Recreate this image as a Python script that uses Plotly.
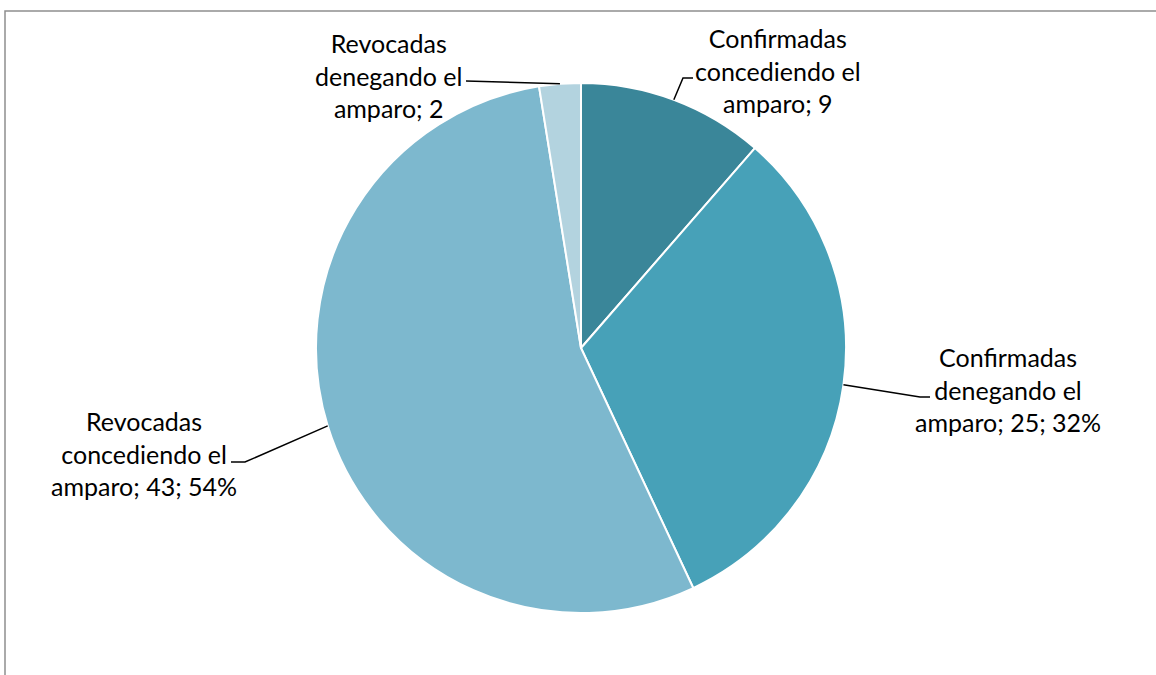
import math
import plotly.graph_objects as go

# Data
categories = [
    "Confirmadas concediendo el amparo",
    "Confirmadas denegando el amparo",
    "Revocadas concediendo el amparo",
    "Revocadas denegando el amparo",
]
values = [9, 25, 43, 2]
show_percent = [False, True, True, False]
colors = ["#3A8699", "#47A1B8", "#7DB8CE", "#B3D3DF"]

# Canvas and pie geometry (pixels)
W, H = 1156, 675
CX, CY, R = 581, 348, 265

# Label block centres and leader elbows (pixels)
label_pos = [(778, 71), (1008, 389), (144, 453), (388, 75)]
elbows = [[(683, 78), (693, 78)], [(920, 397), (930, 397)],
          [(245, 462), (231, 462)], [(466, 81)]]


def px(x, y):
    return x / W, 1 - y / H


def wrap(name):
    words = name.split(" ")
    # "Confirmadas" / "concediendo el" / "amparo"
    return [words[0], " ".join(words[1:3]), " ".join(words[3:])]


total = sum(values)

fig = go.Figure(go.Pie(
    labels=categories,
    values=values,
    sort=False,
    direction="clockwise",
    rotation=0,
    marker=dict(colors=colors, line=dict(color="white", width=2)),
    textinfo="none",
    hoverinfo="label+value+percent",
    showlegend=False,
    domain=dict(x=[(CX - R) / W, (CX + R) / W],
                y=[(H - CY - R) / H, (H - CY + R) / H]),
))

shapes = [dict(type="rect", xref="paper", yref="paper",
               x0=5 / W, y0=1 - 11 / H, x1=1.01, y1=-0.01,
               line=dict(color="#8E8E8E", width=1.5), layer="below")]
annotations = []

cum = 0
for i, v in enumerate(values):
    mid = (cum + v / 2) / total * 2 * math.pi
    cum += v
    ex, ey = CX + R * math.sin(mid), CY - R * math.cos(mid)
    pts = [(ex, ey)] + elbows[i]
    path = "M " + " L ".join(f"{px(x, y)[0]},{px(x, y)[1]}" for x, y in pts)
    shapes.append(dict(type="path", xref="paper", yref="paper", path=path,
                       line=dict(color="black", width=1.5)))
    lines = wrap(categories[i])
    last = f"{lines[2]}; {v}"
    if show_percent[i]:
        last += f"; {round(v / total * 100)}%"
    text = "<br>".join(lines[:2] + [last])
    lx, ly = px(*label_pos[i])
    annotations.append(dict(x=lx, y=ly, xref="paper", yref="paper",
                            text=text, showarrow=False, align="center",
                            xanchor="center", yanchor="middle",
                            font=dict(family="Lato", size=25, color="black")))

fig.update_layout(
    width=W, height=H,
    margin=dict(l=0, r=0, t=0, b=0),
    paper_bgcolor="white",
    plot_bgcolor="white",
    shapes=shapes,
    annotations=annotations,
)

fig.write_html("out.html")
